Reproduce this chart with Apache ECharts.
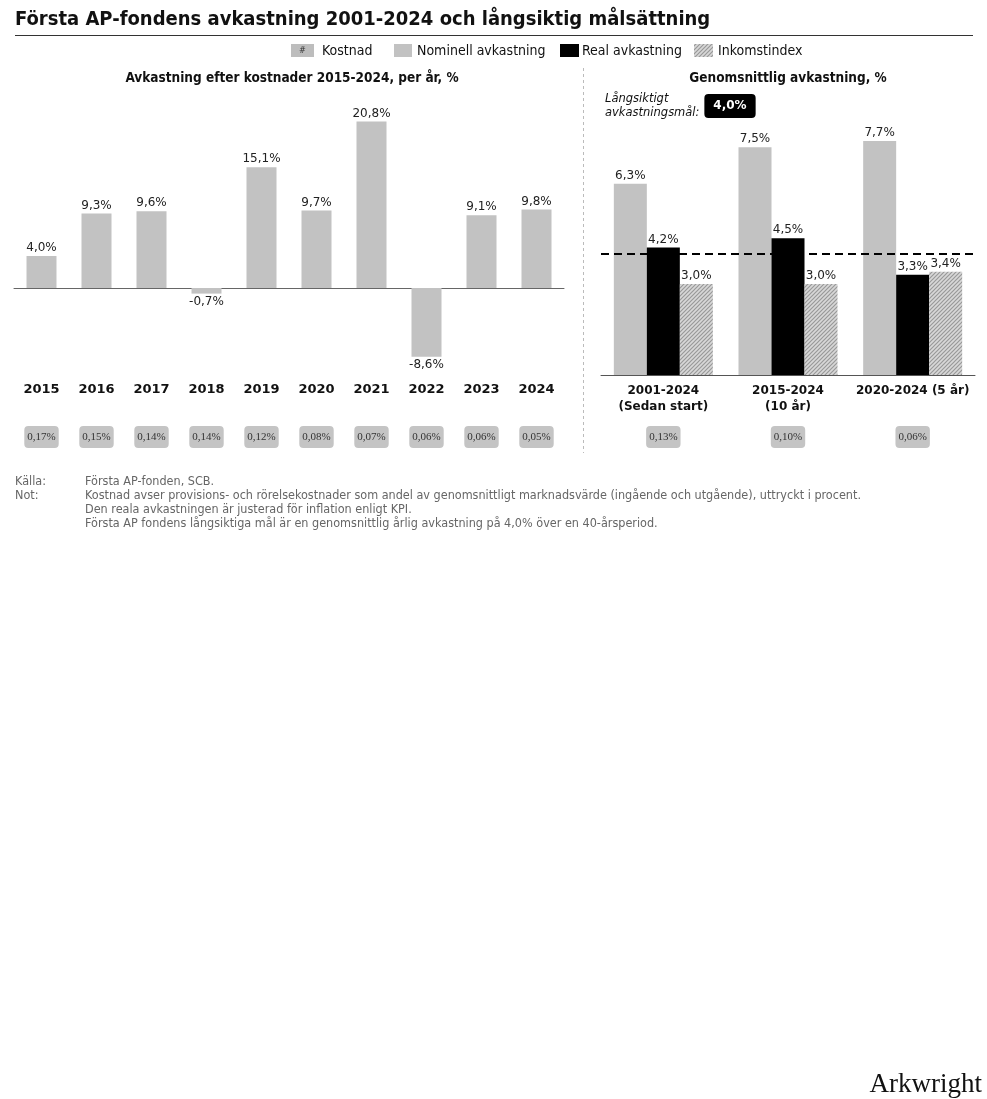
<!DOCTYPE html>
<html><head><meta charset="utf-8">
<script src="https://cdn.jsdelivr.net/npm/echarts@6/dist/echarts.min.js"></script>
<style>html,body{margin:0;padding:0;background:#fff}#c{width:987px;height:1099px}</style>
</head><body><div id="c"></div>
<script>
// ---- data ----
const years = ['2015','2016','2017','2018','2019','2020','2021','2022','2023','2024'];
const yearlyReturns = [4.0, 9.3, 9.6, -0.7, 15.1, 9.7, 20.8, -8.6, 9.1, 9.8];
const yearlyCosts = ['0,17%','0,15%','0,14%','0,14%','0,12%','0,08%','0,07%','0,06%','0,06%','0,05%'];
const periods = ['2001-2024\n(Sedan start)', '2015-2024\n(10 år)', '2020-2024 (5 år)'];
const nominalAvg = [6.3, 7.5, 7.7];
const realAvg = [4.2, 4.5, 3.3];
const incomeIndex = [3.0, 3.0, 3.4];
const periodCosts = ['0,13%','0,10%','0,06%'];
const target = 4.0;

const F = '"DejaVu Sans", Verdana, sans-serif';
const FC = '"DejaVu Sans Condensed", "DejaVu Sans", sans-serif';
const FS = '"Liberation Serif", "DejaVu Serif", serif';
const GREY = '#c2c2c2';
function hatch(){
  const c = document.createElement('canvas'); c.width = 4; c.height = 4;
  const g = c.getContext('2d');
  g.fillStyle = '#d8d8d8'; g.fillRect(0,0,4,4);
  g.strokeStyle = '#999'; g.lineWidth = 1.2;
  g.beginPath();
  g.moveTo(-1,5); g.lineTo(5,-1);
  g.moveTo(-1,1); g.lineTo(1,-1);
  g.moveTo(3,5); g.lineTo(5,3);
  g.stroke();
  return {image: c, repeat: 'repeat'};
}
const HATCH = hatch();
const fmt = v => v.toFixed(1).replace('.', ',') + '%';

const chart = echarts.init(document.getElementById('c'), null, {renderer: 'canvas'});
const lbl = {show: true, fontFamily: F, fontSize: 12, color: '#222', formatter: p => fmt(p.value), distance: 2};
const costLbl = {fontFamily: FS, fontSize: 11, color: '#333', backgroundColor: '#c4c4c4',
  borderRadius: 4, padding: [6, 3, 5, 3], interval: 0};

chart.setOption({
  animation: false,
  textStyle: {fontFamily: F},
  grid: [
    {left: 14, right: 423, top: 112, height: 256},
    {left: 601, right: 12, top: 132, height: 243}
  ],
  xAxis: [
    {gridIndex: 0, type: 'category', data: years, position: 'bottom',
     axisLine: {onZero: true, lineStyle: {color: '#666', width: 1}}, axisTick: {show: false}, axisLabel: {show: false}},
    {gridIndex: 0, type: 'category', data: years, position: 'bottom',
     axisLine: {show: false, onZero: false}, axisTick: {show: false},
     axisLabel: {interval: 0, margin: 15, fontFamily: F, fontSize: 13, fontWeight: 'bold', color: '#111'}},
    {gridIndex: 0, type: 'category', data: yearlyCosts, position: 'bottom', offset: 50,
     axisLine: {show: false, onZero: false}, axisTick: {show: false},
     axisLabel: Object.assign({margin: 8}, costLbl)},
    {gridIndex: 1, type: 'category', data: periods, position: 'bottom',
     axisLine: {onZero: false, lineStyle: {color: '#555', width: 1}}, axisTick: {show: false},
     axisLabel: {interval: 0, margin: 8, fontFamily: F, fontSize: 12, fontWeight: 'bold', color: '#111', lineHeight: 16}},
    {gridIndex: 1, type: 'category', data: periodCosts, position: 'bottom', offset: 45,
     axisLine: {show: false, onZero: false}, axisTick: {show: false},
     axisLabel: Object.assign({margin: 6}, costLbl)}
  ],
  yAxis: [
    {gridIndex: 0, type: 'value', min: -10, max: 22, show: false, splitLine: {show: false}},
    {gridIndex: 1, type: 'value', min: 0, max: 8, show: false, splitLine: {show: false}}
  ],
  series: [
    {type: 'bar', xAxisIndex: 0, yAxisIndex: 0, barWidth: 30, itemStyle: {color: GREY},
     data: yearlyReturns.map(v => ({value: v, label: {position: v < 0 ? 'bottom' : 'top'}})),
     label: lbl},
    {name: 'Nominell avkastning', type: 'bar', xAxisIndex: 3, yAxisIndex: 1, barWidth: 33, barGap: 0,
     itemStyle: {color: GREY}, data: nominalAvg, label: Object.assign({}, lbl, {position: 'top'})},
    {name: 'Real avkastning', type: 'bar', xAxisIndex: 3, yAxisIndex: 1, barWidth: 33, barGap: 0,
     itemStyle: {color: '#000'}, data: realAvg, label: Object.assign({}, lbl, {position: 'top'}),
     markLine: {silent: true, symbol: 'none', label: {show: false},
       lineStyle: {color: '#000', type: [8, 5], width: 2}, data: [{yAxis: target}]}},
    {name: 'Inkomstindex', type: 'bar', xAxisIndex: 3, yAxisIndex: 1, barWidth: 33, barGap: 0,
     itemStyle: {color: HATCH}, data: incomeIndex, label: Object.assign({}, lbl, {position: 'top'})}
  ],
  graphic: [
    {type: 'text', left: 15, top: 10, style: {text: 'Första AP-fondens avkastning 2001-2024 och långsiktig målsättning',
      font: 'bold 20px ' + FC, fill: '#111'}},
    {type: 'line', shape: {x1: 15, y1: 35.5, x2: 973, y2: 35.5}, style: {stroke: '#333', lineWidth: 1}},
    // legend
    {type: 'rect', shape: {x: 291, y: 44, width: 23, height: 13}, style: {fill: '#bdbdbd'}},
    {type: 'text', x: 302.5, y: 50.5, style: {text: '#', font: '9px ' + FC, fill: '#333', align: 'center', verticalAlign: 'middle'}},
    {type: 'text', x: 322, y: 51, style: {text: 'Kostnad', font: '14px ' + FC, fill: '#111', verticalAlign: 'middle'}},
    {type: 'rect', shape: {x: 394, y: 44, width: 18, height: 13}, style: {fill: GREY}},
    {type: 'text', x: 417, y: 51, style: {text: 'Nominell avkastning', font: '14px ' + FC, fill: '#111', verticalAlign: 'middle'}},
    {type: 'rect', shape: {x: 560, y: 44, width: 19, height: 13}, style: {fill: '#000'}},
    {type: 'text', x: 582, y: 51, style: {text: 'Real avkastning', font: '14px ' + FC, fill: '#111', verticalAlign: 'middle'}},
    {type: 'rect', shape: {x: 694, y: 44, width: 19, height: 13}, style: {fill: HATCH}},
    {type: 'text', x: 718, y: 51, style: {text: 'Inkomstindex', font: '14px ' + FC, fill: '#111', verticalAlign: 'middle'}},
    // subtitles
    {type: 'text', x: 292, y: 78, style: {text: 'Avkastning efter kostnader 2015-2024, per år, %', font: 'bold 13.5px ' + FC,
      fill: '#111', align: 'center', verticalAlign: 'middle'}},
    {type: 'text', x: 788, y: 78, style: {text: 'Genomsnittlig avkastning, %', font: 'bold 13.5px ' + FC,
      fill: '#111', align: 'center', verticalAlign: 'middle'}},
    {type: 'line', shape: {x1: 583.5, y1: 68, x2: 583.5, y2: 453}, style: {stroke: '#bbb', lineWidth: 1, lineDash: [3, 3]}},
    // target
    {type: 'text', x: 605, y: 106, style: {text: 'Långsiktigt\navkastningsmål:', font: 'italic 11.5px ' + F, fill: '#111',
      lineHeight: 14, verticalAlign: 'middle'}},
    {type: 'text', x: 730, y: 106, style: {text: fmt(target), font: 'bold 12px ' + F, fill: '#fff', align: 'center',
      verticalAlign: 'middle', backgroundColor: '#000', borderRadius: 4, padding: [6, 9, 6, 9]}},
    // notes
    {type: 'text', x: 15, y: 475, style: {text: 'Källa:\nNot:', font: '12.5px ' + FC, fill: '#666', lineHeight: 14}},
    {type: 'text', x: 85, y: 475, style: {text: 'Första AP-fonden, SCB.\nKostnad avser provisions- och rörelsekostnader som andel av genomsnittligt marknadsvärde (ingående och utgående), uttryckt i procent.\nDen reala avkastningen är justerad för inflation enligt KPI.\nFörsta AP fondens långsiktiga mål är en genomsnittlig årlig avkastning på 4,0% över en 40-årsperiod.',
      font: '12.5px ' + FC, fill: '#666', lineHeight: 14}},
    {type: 'text', right: 5, top: 1071, style: {text: 'Arkwright', font: '27px "Liberation Serif", "DejaVu Serif", serif', fill: '#111'}}
  ]
});
</script></body></html>
